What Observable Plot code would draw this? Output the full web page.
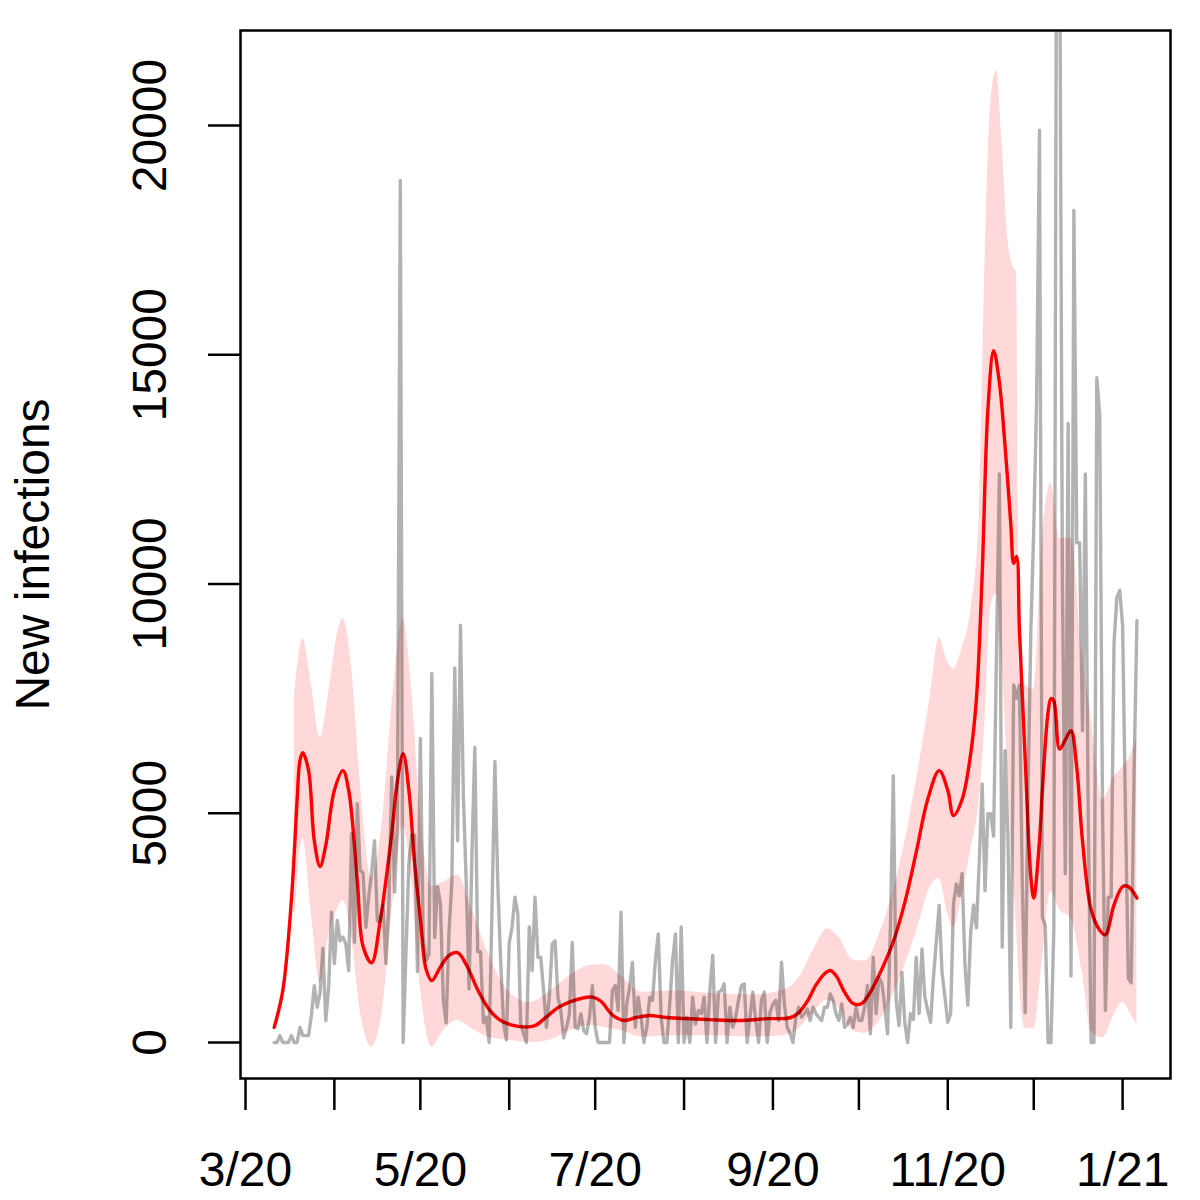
<!DOCTYPE html>
<html>
<head>
<meta charset="utf-8">
<script src="https://cdn.jsdelivr.net/npm/d3@7"></script>
<script src="https://cdn.jsdelivr.net/npm/@observablehq/plot@0.6"></script>
<style>
  html, body { margin: 0; padding: 0; background: #ffffff; }
</style>
</head>
<body>
<div id="chart"></div>
<script>
// ---------- data ----------
const seriesStart = "2020-03-11";   // first day of the daily series
// daily new infections (grey line), one value per day, 2020-03-11 .. 2021-01-06
const dailyCases = [
  0,0,150,0,0,0,150,0,0,330,
  150,150,150,600,1240,770,1070,2050,480,1200,
  2840,1720,2660,2220,2300,2150,1570,4560,2190,5210,
  3750,3700,2510,3200,3700,4400,2650,2650,3000,1720,
  3000,5790,3280,4800,18800,0,2000,3900,4520,4520,
  1550,6630,2290,1790,1920,8050,2290,3400,3030,930,
  430,2410,3530,8170,4400,9100,5390,3500,1170,4150,
  6440,1980,1980,430,550,0,2910,6130,3500,1790,
  430,60,2170,2520,3170,2810,410,200,0,2520,
  1570,3170,1860,1860,1130,330,1000,2150,2220,990,
  700,100,330,630,2180,330,300,630,260,190,
  550,1240,330,0,0,0,0,0,1130,1240,
  700,2840,0,840,1200,1750,330,990,550,0,
  330,990,920,1800,2370,550,0,0,840,1790,
  2370,0,2520,0,550,0,990,400,700,630,
  990,0,1130,1900,0,1100,1130,1280,0,770,
  330,550,920,1240,1280,0,550,1100,480,0,
  920,1100,0,660,840,920,480,1750,840,330,
  200,0,550,770,550,630,730,480,770,630,
  550,480,770,770,1060,920,630,480,840,330,
  400,550,330,770,480,480,770,1240,190,1860,
  630,1420,1300,800,190,2520,5820,900,370,1530,
  440,0,630,500,1860,630,2040,1000,700,440,
  1420,2200,2990,1530,1000,440,630,3020,3460,3200,
  3680,1700,810,2400,3000,2500,3970,5640,3310,4990,
  4990,4500,8500,12400,2080,6370,4500,330,7800,7500,
  7800,3500,650,5500,9000,11200,14000,19900,2730,2560,
  0,0,2460,26000,25000,10000,3680,13500,1450,18150,
  10900,10900,6800,12400,5000,0,0,14500,13700,5000,
  700,3170,3170,8700,9710,9860,9100,5000,1400,1300,
  5900,9200
];

// smoothed estimate (red line)
const fitDates = [
  "2020-03-11","2020-03-14","2020-03-17","2020-03-19","2020-03-20","2020-03-21","2020-03-23","2020-03-25","2020-03-27","2020-03-29",
  "2020-04-01","2020-04-04","2020-04-06","2020-04-09","2020-04-11","2020-04-14","2020-04-17","2020-04-21","2020-04-23","2020-04-25",
  "2020-04-27","2020-04-29","2020-05-01","2020-05-03","2020-05-05","2020-05-08","2020-05-11","2020-05-14","2020-05-17","2020-05-21",
  "2020-05-25","2020-05-29","2020-06-02","2020-06-06","2020-06-10","2020-06-14","2020-06-18","2020-06-22","2020-06-26","2020-06-30",
  "2020-07-03","2020-07-07","2020-07-11","2020-07-15","2020-07-20","2020-07-25","2020-08-01","2020-08-10","2020-08-20","2020-08-30",
  "2020-09-07","2020-09-10","2020-09-13","2020-09-16","2020-09-19","2020-09-21","2020-09-23","2020-09-26","2020-09-29","2020-10-02",
  "2020-10-05","2020-10-09","2020-10-13","2020-10-17","2020-10-21","2020-10-25","2020-10-29","2020-11-01","2020-11-03","2020-11-06",
  "2020-11-09","2020-11-11","2020-11-13","2020-11-15","2020-11-17","2020-11-19","2020-11-21","2020-11-23","2020-11-24","2020-11-25",
  "2020-11-26","2020-11-28","2020-11-30","2020-12-01","2020-12-03","2020-12-04","2020-12-06","2020-12-07","2020-12-08","2020-12-10",
  "2020-12-12","2020-12-14","2020-12-16","2020-12-18","2020-12-21","2020-12-24","2020-12-26","2020-12-29","2021-01-01","2021-01-03",
  "2021-01-06"
];
const fitValues = [
  330,1130,3100,5280,6150,6320,5930,4400,3840,4300,
  5500,5930,5500,3530,2100,1740,2660,4550,5710,6300,
  5500,3900,2700,1600,1350,1650,1900,1960,1700,1150,
  720,480,380,340,370,560,760,880,960,990,
  900,600,480,540,590,550,525,500,480,520,
  540,650,900,1250,1500,1570,1460,1100,850,850,
  1100,1600,2200,3050,4150,5300,5930,5500,4950,5300,
  6300,7500,10200,13800,15090,14400,13000,11300,10450,10600,
  9000,6200,3600,3150,4400,5500,7200,7500,7450,6400,
  6600,6800,6000,4400,2900,2450,2350,3000,3400,3400,
  3150
];

// uncertainty band (pink)
const bandDates = [
  "2020-03-18","2020-03-21","2020-03-24","2020-03-27","2020-03-30","2020-04-02","2020-04-04","2020-04-07","2020-04-10","2020-04-14",
  "2020-04-18","2020-04-21","2020-04-25","2020-04-28","2020-05-01","2020-05-05","2020-05-09","2020-05-14","2020-05-19","2020-05-25",
  "2020-06-01","2020-06-08","2020-06-15","2020-06-22","2020-06-29","2020-07-04","2020-07-10","2020-07-17","2020-07-28","2020-08-10",
  "2020-08-25","2020-09-05","2020-09-10","2020-09-15","2020-09-20","2020-09-24","2020-09-29","2020-10-03","2020-10-09","2020-10-15",
  "2020-10-21","2020-10-26","2020-10-29","2020-11-01","2020-11-03","2020-11-06","2020-11-09","2020-11-12","2020-11-14","2020-11-16",
  "2020-11-18","2020-11-20","2020-11-22","2020-11-24","2020-11-25","2020-11-26","2020-11-28","2020-12-01","2020-12-04","2020-12-07",
  "2020-12-10","2020-12-14","2020-12-18","2020-12-21","2020-12-25","2020-12-29","2021-01-01","2021-01-04","2021-01-06"
];
const bandLower = [
  2400,4450,2800,1300,2300,2900,3100,2300,700,-100,
  800,2800,4700,3500,1200,-100,250,480,300,110,
  50,0,50,250,370,330,260,120,150,150,
  120,150,300,650,920,750,250,200,550,1350,
  2400,3400,3580,2800,2510,3200,4200,5300,7000,9500,
  9800,8200,5800,3500,2500,1300,300,300,1800,3300,
  2900,2700,1500,250,100,600,870,600,370
];
const bandUpper = [
  7500,8800,7800,6650,7600,8900,9250,8200,5700,3600,
  5000,7300,9250,7700,5000,3400,3500,3650,2900,1900,
  1100,870,1100,1450,1680,1700,1450,1100,1130,1070,
  1040,1150,1400,2000,2480,2300,1800,1780,2510,3800,
  5700,7600,8830,8300,8150,8600,9400,11500,17000,20500,
  21200,19600,17500,16900,16800,8200,7800,7700,11000,12200,
  11000,11000,8500,7100,5300,5800,6000,6300,6650
];

// axes
const monthTicks = ["2020-03-01","2020-04-01","2020-05-01","2020-06-01","2020-07-01","2020-08-01",
                    "2020-09-01","2020-10-01","2020-11-01","2020-12-01","2021-01-01"];
const monthLabels = ["3/20","","5/20","","7/20","","9/20","","11/20","","1/21"];
const yTicks = [0, 5000, 10000, 15000, 20000];
const yTitle = "New infections";

// ---------- build tables ----------
const start = new Date(seriesStart);
const daily = dailyCases.map((v, i) => ({date: new Date(start.getTime() + i * 864e5), value: v}));
const fit = fitDates.map((d, i) => ({date: new Date(d), value: fitValues[i]}));
const band = bandDates.map((d, i) => ({date: new Date(d), lo: bandLower[i], hi: bandUpper[i]}));
const tickDates = monthTicks.map(d => new Date(d));
const labelled = tickDates.map((d, i) => ({date: d, label: monthLabels[i]})).filter(d => d.label);

const chart = Plot.plot({
  width: 1200,
  height: 1200,
  marginTop: 30,
  marginRight: 30,
  marginBottom: 122,
  marginLeft: 240,
  style: {fontFamily: "'Liberation Sans', Arial, Helvetica, sans-serif", background: "white", color: "black"},
  x: {type: "utc", domain: [new Date(Date.UTC(2020, 1, 28, 6)), new Date(Date.UTC(2021, 0, 17, 17))]},
  y: {domain: [-785, 22072]},
  marks: [
    Plot.areaY(band, {x: "date", y1: "lo", y2: "hi", fill: "red", fillOpacity: 0.15, curve: "monotone-x", clip: true}),
    Plot.lineY(fit, {x: "date", y: "value", stroke: "red", strokeWidth: 3.4, curve: "catmull-rom", clip: true}),
    Plot.lineY(daily, {x: "date", y: "value", stroke: "black", strokeOpacity: 0.3, strokeWidth: 3.4, clip: true}),
    Plot.frame({stroke: "black", strokeWidth: 2.5}),
    Plot.axisX({ticks: tickDates, tickSize: 32, tickFormat: () => "", strokeWidth: 2.5, label: null}),
    Plot.axisY({ticks: yTicks, tickSize: 32, tickFormat: () => "", strokeWidth: 2.5, label: null}),
    Plot.text(labelled, {x: "date", text: "label", frameAnchor: "bottom", dy: 107, lineAnchor: "bottom", textAnchor: "middle", fontSize: 48, fill: "black"}),
    Plot.text(yTicks, {y: d => d, text: d => String(d), frameAnchor: "left", dx: -90, rotate: -90, textAnchor: "middle", lineAnchor: "middle", fontSize: 48, fill: "black"}),
    Plot.text([yTitle], {text: d => d, frameAnchor: "left", dx: -207, rotate: -90, textAnchor: "middle", lineAnchor: "middle", fontSize: 48, fill: "black"})
  ]
});
document.getElementById("chart").appendChild(chart);
</script>
</body>
</html>
